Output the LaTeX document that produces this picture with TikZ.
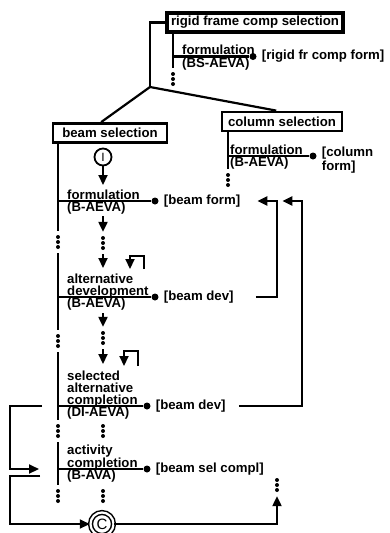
\documentclass[tikz,border=0pt]{standalone}
\usepackage{fontspec}
\setmainfont{Liberation Sans}
\usetikzlibrary{arrows.meta,positioning}

\begin{document}
\begin{tikzpicture}[
    x=1pt, y=-1pt,
    every node/.style={font=\bfseries\fontsize{13.2}{12}\selectfont},
    selbox/.style={draw, line width=2.8pt, inner sep=2pt, minimum height=19pt},
    actname/.style={align=left, inner sep=0pt, anchor=south west, text depth=0pt},
    actcode/.style={inner sep=0pt, anchor=base west},
    product/.style={inner sep=0pt, align=left},
    blob/.style={circle, fill, inner sep=0pt, minimum size=7pt},
    gap/.style={inner sep=0pt, minimum width=6pt, minimum height=22pt,
        path picture={\foreach \d in {-5,0,5} \fill ([yshift=\d pt]path picture bounding box.center) circle (2pt);}},
    link/.style={line width=2.2pt},
    flow/.style={link, -{Triangle[length=10pt,width=9pt]}}
]
\useasboundingbox (0,0) rectangle (390,533);

% selections
\node[selbox, line width=3.2pt, minimum width=176pt] (rfsel) at (255,22.5) {rigid frame comp selection};
\node[selbox, minimum width=114pt] (bsel) at (110,133) {beam selection};
\node[selbox, minimum width=120pt] (csel) at (282,121.5) {column selection};

\coordinate (top) at (150,22.5);
\coordinate (fork) at (150,87);
\draw[link] (rfsel.west) -- (top) -- (fork);
\draw[link] (fork) -- (bsel.129);
\draw[link] (fork) -- (csel.118);

% rigid frame formulation
\node[gap] (rfgap) at (173,79) {};
\node[blob] (rfdot) at (253,56.5) {};
\node[actname] (rfname) at (182,55) {formulation};
\node[actcode] (rfcode) at (182,67) {(BS-AEVA)};
\node[product, right=5pt of rfdot] (rfout) {[rigid fr comp form]};
\draw[link] (rfsel.south -| rfgap) -- (rfgap.north);
\draw[link] (rfgap |- rfdot) -- (rfdot);

% column formulation
\node[gap] (cfgap) at (228,180) {};
\node[blob] (cfdot) at (313,156) {};
\node[actname] (cfname) at (230,154.5) {formulation};
\node[actcode] (cfcode) at (230,166) {(B-AEVA)};
\node[product, right=5pt of cfdot, yshift=-4pt, font=\bfseries\fontsize{13.2}{14}\selectfont] (cfout) {[column\\form]};
\draw[link] (csel.south -| cfgap) -- (cfgap.north);
\draw[link] (cfgap |- cfdot) -- (cfdot);

% beam selection, left line
\node[gap] (g1) at (58,242) {};
\node[gap] (g2) at (58,341) {};
\node[gap] (g3) at (58,431) {};
\node[gap] (g4) at (58,496) {};
\draw[link] (bsel.south -| g1) -- (g1.north);
\draw[link] (g1.south) -- (g2.north);
\draw[link] (g2.south) -- (g3.north);
\draw[link] (g3.south) -- (g4.north);

% beam selection, activities
\node[blob] (bfdot) at (155,201) {};
\node[actname] (bfname) at (67,199.5) {formulation};
\node[actcode] (bfcode) at (67,211) {(B-AEVA)};
\node[product, right=5pt of bfdot] (bfout) {[beam form]};
\draw[link] (g1 |- bfdot) -- (bfdot);

\node[blob] (bddot) at (155,297) {};
\node[actname] (bdname) at (67,295.5) {alternative\\development};
\node[actcode] (bdcode) at (67,307) {(B-AEVA)};
\node[product, right=5pt of bddot] (bdout) {[beam dev]};
\draw[link] (g2 |- bddot) -- (bddot);

\node[blob] (bsdot) at (147,406) {};
\node[actname] (bsname) at (67,404.5) {selected\\alternative\\completion};
\node[actcode] (bscode) at (67,416) {(DI-AEVA)};
\node[product, right=5pt of bsdot] (bsout) {[beam dev]};
\draw[link] (g3 |- bsdot) -- (bsdot);

\node[blob] (bcdot) at (147,469) {};
\node[actname] (bcname) at (67,467.5) {activity\\completion};
\node[actcode] (bccode) at (67,479) {(B-AVA)};
\node[product, right=5pt of bcdot] (bcout) {[beam sel compl]};
\draw[link] (g4 |- bcdot) -- (bcdot);

% beam selection, middle line
\node[circle, draw, line width=1.8pt, minimum size=17pt, inner sep=0pt, font=\fontsize{12}{12}\selectfont] (start) at (103,157) {I};
\node[gap] (gm1) at (103,243) {};
\node[gap] (gm2) at (103,338) {};
\node[gap] (gm3) at (103,431) {};
\node[gap] (gm4) at (103,496) {};
\node[circle, draw, double, double distance=2.2pt, line width=1.5pt, minimum size=23pt, inner sep=0pt, font=\fontsize{15}{15}\selectfont] (compl) at (102,524) {C};
\coordinate (m1) at (103,185);
\coordinate (m2) at (103,216);
\coordinate (m3) at (103,268);
\coordinate (m4) at (103,313);
\coordinate (m5) at (103,364);
\draw[flow] (start) -- (m1);
\draw[flow] (m2) -- (gm1.north);
\draw[flow] (gm1.south) -- (m3);
\draw[flow] (m4) -- (gm2.north);
\draw[flow] (gm2.south) -- (m5);

% repeat arrows
\coordinate (rep1) at (144,269);
\coordinate (rep1b) at (130,256);
\draw[flow] (rep1) |- (rep1b) -- (rep1b |- rep1);
\coordinate (rep2) at (138,366);
\coordinate (rep2b) at (124,351);
\draw[flow] (rep2) |- (rep2b) -- (rep2b |- rep2);

% feedback to beam form
\coordinate (fb1) at (277,297);
\coordinate (fb2) at (302,406);
\draw[flow] ([xshift=22pt]bdout.east) -- (fb1) -- (fb1 |- bfdot) -- ([xshift=17pt]bfout.east);
\draw[flow] ([xshift=13pt]bsout.east) -- (fb2) -- (fb2 |- bfdot) -- ([xshift=42pt]bfout.east);

% left loops
\coordinate (back1) at (42,406);
\coordinate (turn1) at (10,406);
\coordinate (into1) at (39,469);
\coordinate (back2) at (40,476);
\draw[flow] (back1) -- (turn1) |- (into1);
\draw[flow] (back2) -- (back2 -| turn1) |- (compl);

% exit
\node[gap] (endgap) at (277,485) {};
\draw[flow] (compl) -| (endgap.south);
\end{tikzpicture}
\end{document}
